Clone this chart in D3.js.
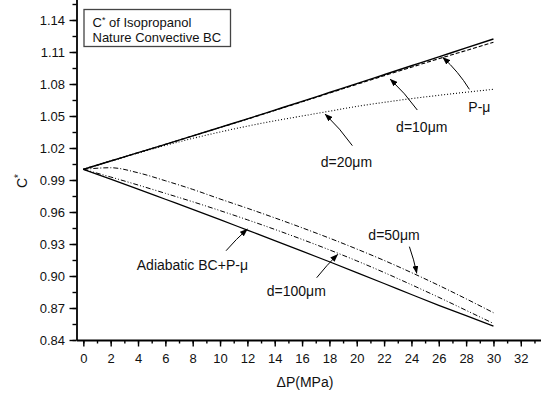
<!DOCTYPE html>
<html>
<head>
<meta charset="utf-8">
<script src="https://cdnjs.cloudflare.com/ajax/libs/d3/7.8.5/d3.min.js"></script>
<style>
  html, body { margin: 0; padding: 0; background: #fff; }
  svg { display: block; font-family: "Liberation Sans", Arial, sans-serif; }
</style>
</head>
<body>
<svg id="chart" width="541" height="395"></svg>
<script>
// Pressure drop (MPa) at which every curve is sampled
const pressure = [0, 2, 4, 6, 8, 10, 12, 14, 16, 18, 20, 22, 24, 26, 28, 30];

// C* values for each boundary condition / channel diameter
const pMu       = [1.0000, 1.0078, 1.0156, 1.0234, 1.0313, 1.0393, 1.0473, 1.0555, 1.0637, 1.0720, 1.0803, 1.0887, 1.0971, 1.1055, 1.1138, 1.1222];
const d10       = [1.0000, 1.0078, 1.0156, 1.0234, 1.0313, 1.0392, 1.0471, 1.0552, 1.0633, 1.0715, 1.0797, 1.0878, 1.0958, 1.1037, 1.1114, 1.1191];
const d20       = [1.0000, 1.0078, 1.0153, 1.0224, 1.0290, 1.0350, 1.0405, 1.0455, 1.0500, 1.0545, 1.0590, 1.0628, 1.0663, 1.0694, 1.0723, 1.0750];
const d50       = [1.0000, 1.0015, 0.9968, 0.9893, 0.9812, 0.9722, 0.9635, 0.9545, 0.9452, 0.9355, 0.9253, 0.9146, 0.9032, 0.8912, 0.8786, 0.8656];
const d100      = [1.0000, 0.9928, 0.9853, 0.9775, 0.9696, 0.9613, 0.9527, 0.9437, 0.9343, 0.9245, 0.9142, 0.9033, 0.8918, 0.8800, 0.8678, 0.8555];
const adiabatic = [1.0000, 0.9908, 0.9815, 0.9720, 0.9625, 0.9528, 0.9430, 0.9332, 0.9233, 0.9133, 0.9032, 0.8930, 0.8827, 0.8725, 0.8628, 0.8530];

// Tick values
const xMajorTicks = d3.range(0, 33, 2);
const xMinorTicks = d3.range(0, 34, 1);
const yMajorTicks = [0.84, 0.87, 0.90, 0.93, 0.96, 0.99, 1.02, 1.05, 1.08, 1.11, 1.14];
const yMinorTicks = [0.84, 0.855, 0.87, 0.885, 0.90, 0.915, 0.93, 0.945, 0.96, 0.975, 0.99, 1.005, 1.02, 1.035, 1.05, 1.065, 1.08, 1.095, 1.11, 1.125, 1.14, 1.155];

// Curve styling (solid, dash, dot, dash-dot, dash-dot-dot)
const series = [
  { name: "P-\u03bc",              values: pMu,       dash: null,                width: 1.4 },
  { name: "d=10\u03bcm",           values: d10,       dash: "4,2",               width: 1.1 },
  { name: "d=20\u03bcm",           values: d20,       dash: "1,2",               width: 1.1 },
  { name: "d=50\u03bcm",           values: d50,       dash: "5,2,1,2",           width: 1.0 },
  { name: "d=100\u03bcm",          values: d100,      dash: "5,2,1,2,1,2",       width: 1.0 },
  { name: "Adiabatic BC+P-\u03bc", values: adiabatic, dash: null,                width: 1.2 }
];

// Curve labels with their pointer arrows, in data units (P, C*)
const labels = [
  { text: "P-\u03bc",              at: [28.16, 1.054],  from: [28.24, 1.075],  to: [26.29, 1.105],  bend: 3 },
  { text: "d=10\u03bcm",           at: [22.88, 1.0353], from: [24.43, 1.0556], to: [22.44, 1.0847], bend: 2 },
  { text: "d=20\u03bcm",           at: [17.37, 1.0025], from: [19.68, 1.0222], to: [17.68, 1.0519], bend: 2 },
  { text: "d=50\u03bcm",           at: [20.85, 0.9337], from: [23.85, 0.9275], to: [24.39, 0.9025], bend: -1 },
  { text: "d=100\u03bcm",          at: [13.42, 0.8815], from: [17.07, 0.8984], to: [18.61, 0.9203], bend: -1 },
  { text: "Adiabatic BC+P-\u03bc", at: [3.91, 0.9056],  from: [10.44, 0.9237], to: [12.0, 0.944],   bend: -1 }
];

const svg = d3.select("#chart");

const x = d3.scaleLinear().domain([-0.5, 33.5]).range([76.5, 541.3]);
const y = d3.scaleLinear().domain([0.84, 1.16]).range([340, -1.33]);

// ---- axes ----
const axisColor = "#000";

// X minor ticks
svg.append("g")
  .attr("transform", "translate(0,340)")
  .call(d3.axisBottom(x).tickValues(xMinorTicks).tickSize(3.5).tickSizeOuter(0).tickFormat(""))
  .call(g => g.select(".domain").remove())
  .call(g => g.selectAll("line").attr("stroke-width", 1.4));

// X major ticks + labels
svg.append("g")
  .attr("transform", "translate(0,340)")
  .call(d3.axisBottom(x).tickValues(xMajorTicks).tickSize(6.5).tickSizeOuter(0).tickPadding(7.5).tickFormat(d3.format("d")))
  .call(g => g.select(".domain").attr("stroke-width", 1.8))
  .call(g => g.selectAll("line").attr("stroke-width", 1.4))
  .call(g => g.selectAll("text").attr("font-size", 13).attr("fill", "#111")
    .attr("font-family", "'Liberation Sans', Arial, sans-serif"));

// Y minor ticks
svg.append("g")
  .attr("transform", "translate(76.5,0)")
  .call(d3.axisLeft(y).tickValues(yMinorTicks).tickSize(4).tickSizeOuter(0).tickFormat(""))
  .call(g => g.select(".domain").remove())
  .call(g => g.selectAll("line").attr("stroke-width", 1.4));

// Y major ticks + labels
svg.append("g")
  .attr("transform", "translate(76.5,0)")
  .call(d3.axisLeft(y).tickValues(yMajorTicks).tickSize(7).tickSizeOuter(0).tickPadding(4.5).tickFormat(d3.format(".2f")))
  .call(g => g.select(".domain").attr("stroke-width", 1.8))
  .call(g => g.selectAll("line").attr("stroke-width", 1.4))
  .call(g => g.selectAll("text").attr("font-size", 13).attr("fill", "#111")
    .attr("font-family", "'Liberation Sans', Arial, sans-serif"));

// Axis titles
svg.append("text")
  .attr("x", 305).attr("y", 387)
  .attr("text-anchor", "middle")
  .attr("font-size", 14).attr("fill", "#111")
  .text("\u0394P(MPa)");

const yTitle = svg.append("text")
  .attr("transform", "translate(27,181) rotate(-90)")
  .attr("text-anchor", "middle")
  .attr("font-size", 14).attr("fill", "#111");
yTitle.append("tspan").text("C");
yTitle.append("tspan").attr("font-size", 10).attr("dy", -5).text("*");

// ---- curves ----
const line = d3.line()
  .x((d, i) => x(pressure[i]))
  .y(d => y(d))
  .curve(d3.curveMonotoneX);

svg.append("g")
  .selectAll("path")
  .data(series)
  .join("path")
  .attr("d", s => line(s.values))
  .attr("fill", "none")
  .attr("stroke", "#000")
  .attr("stroke-width", s => s.width)
  .attr("stroke-dasharray", s => s.dash);

// ---- annotation arrows ----
svg.append("defs").append("marker")
  .attr("id", "head")
  .attr("viewBox", "0 0 8 6")
  .attr("refX", 7.5).attr("refY", 3)
  .attr("markerWidth", 8).attr("markerHeight", 6)
  .attr("markerUnits", "userSpaceOnUse")
  .attr("orient", "auto")
  .append("path")
  .attr("d", "M0,0 L8,3 L0,6 Z")
  .attr("fill", "#000");

const arrowPath = a => {
  const x0 = x(a.from[0]), y0 = y(a.from[1]);
  const x1 = x(a.to[0]),   y1 = y(a.to[1]);
  const mx = (x0 + x1) / 2, my = (y0 + y1) / 2;
  const len = Math.hypot(x1 - x0, y1 - y0);
  const nx = -(y1 - y0) / len, ny = (x1 - x0) / len;
  const p = d3.path();
  p.moveTo(x0, y0);
  p.quadraticCurveTo(mx + nx * a.bend, my + ny * a.bend, x1, y1);
  return p.toString();
};

svg.append("g")
  .selectAll("path")
  .data(labels)
  .join("path")
  .attr("d", arrowPath)
  .attr("fill", "none")
  .attr("stroke", "#000")
  .attr("stroke-width", 1)
  .attr("marker-end", "url(#head)");

svg.append("g")
  .selectAll("text")
  .data(labels)
  .join("text")
  .attr("x", d => x(d.at[0]))
  .attr("y", d => y(d.at[1]))
  .attr("font-size", 14)
  .attr("fill", "#111")
  .text(d => d.text);

// ---- title box ----
const box = svg.append("g");
box.append("rect")
  .attr("x", 84).attr("y", 9.5)
  .attr("width", 146.5).attr("height", 37)
  .attr("fill", "#fff")
  .attr("stroke", "#444")
  .attr("stroke-width", 1.3);
const t1 = box.append("text").attr("x", 92.5).attr("y", 26.5).attr("font-size", 13).attr("fill", "#111");
t1.append("tspan").text("C");
t1.append("tspan").attr("font-size", 9).attr("dy", -4).text("*");
t1.append("tspan").attr("dy", 4).text(" of Isopropanol");
box.append("text").attr("x", 92.5).attr("y", 41.5).attr("font-size", 13).attr("fill", "#111")
  .text("Nature Convective BC");
</script>
</body>
</html>
